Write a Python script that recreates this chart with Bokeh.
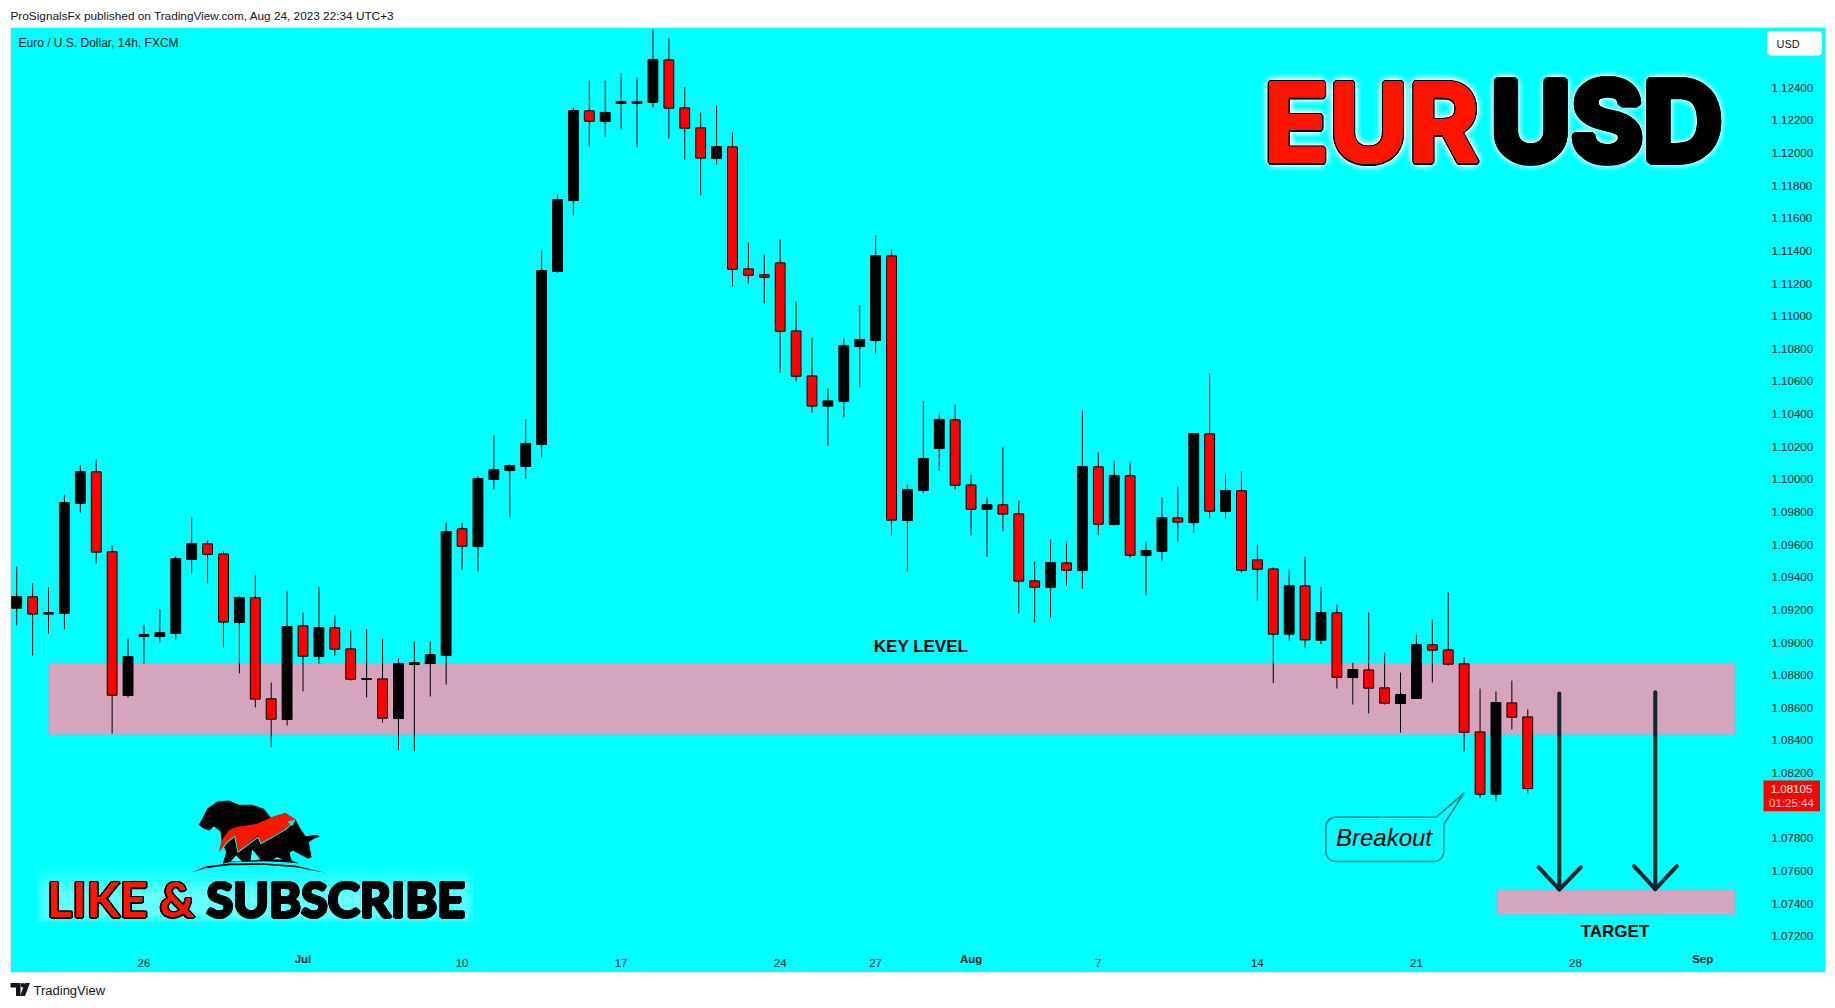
import numpy as np
from bokeh.plotting import figure
from bokeh.models import BoxAnnotation, Label, FixedTicker, NumeralTickFormatter, Range1d
from bokeh.core.properties import value
from bokeh.embed import file_html
from bokeh.resources import INLINE

# ---- data ----
opens = [1.09210,1.09280,1.09174,1.09178,1.09852,1.10046,1.09556,1.08675,1.09037,1.09037,
1.09055,1.09509,1.09605,1.09543,1.09123,1.09274,1.08655,1.08528,1.09102,1.08914,
1.09090,1.08961,1.08773,1.08777,1.08534,1.08865,1.08871,1.08920,1.09697,1.09588,
1.09999,1.10054,1.10079,1.10214,1.11274,1.11709,1.12259,1.12193,1.12304,1.12304,
1.12310,1.12571,1.12277,1.12155,1.11967,1.12038,1.11290,1.11254,1.11327,1.10910,
1.10634,1.10449,1.10477,1.10814,1.10851,1.11370,1.09748,1.09932,1.10189,1.10365,
1.09966,1.09815,1.09844,1.09789,1.09378,1.09337,1.09488,1.09441,1.10077,1.09723,
1.10022,1.09533,1.09558,1.09764,1.09735,1.10279,1.09803,1.09930,1.09507,1.09451,
1.09051,1.09347,1.09014,1.09182,1.08785,1.08832,1.08722,1.08626,1.08657,1.08986,
1.08955,1.08869,1.08452,1.08070,1.08630,1.08544]
closes = [1.09282,1.09174,1.09184,1.09858,1.10048,1.09554,1.08677,1.08914,1.09049,1.09061,
1.09515,1.09607,1.09541,1.09125,1.09276,1.08653,1.08530,1.09098,1.08916,1.09092,
1.08959,1.08775,1.08779,1.08536,1.08871,1.08877,1.08926,1.09680,1.09590,1.10005,
1.10060,1.10085,1.10220,1.11280,1.11715,1.12261,1.12195,1.12249,1.12316,1.12316,
1.12573,1.12275,1.12152,1.11969,1.12040,1.11288,1.11251,1.11239,1.10908,1.10632,
1.10449,1.10481,1.10820,1.10857,1.11372,1.09750,1.09938,1.10128,1.10367,1.09964,
1.09817,1.09846,1.09787,1.09376,1.09339,1.09490,1.09443,1.10079,1.09725,1.10024,
1.09535,1.09564,1.09766,1.09738,1.10281,1.09805,1.09932,1.09443,1.09449,1.09051,
1.09349,1.09016,1.09184,1.08787,1.08834,1.08720,1.08628,1.08681,1.08988,1.08953,
1.08867,1.08450,1.08070,1.08632,1.08542,1.08105]
highs = [1.09466,1.09362,1.09337,1.09907,1.10085,1.10122,1.09594,1.09024,1.09110,1.09202,
1.09527,1.09766,1.09625,1.09558,1.09282,1.09417,1.08755,1.09319,1.09184,1.09343,
1.09165,1.09074,1.09080,1.09024,1.08902,1.09006,1.09006,1.09735,1.09735,1.10017,
1.10269,1.10091,1.10367,1.11403,1.11746,1.12279,1.12445,1.12445,1.12488,1.12463,
1.12757,1.12702,1.12402,1.12249,1.12291,1.12126,1.11452,1.11378,1.11470,1.11090,
1.10869,1.10557,1.10863,1.11066,1.11495,1.11409,1.09968,1.10477,1.10404,1.10459,
1.10030,1.09889,1.10201,1.09870,1.09496,1.09631,1.09619,1.10422,1.10165,1.10115,
1.10109,1.09619,1.09889,1.09956,1.10281,1.10649,1.10030,1.10048,1.09601,1.09460,
1.09447,1.09527,1.09343,1.09233,1.08877,1.09184,1.08939,1.08816,1.09049,1.09141,
1.09306,1.08908,1.08718,1.08700,1.08767,1.08589]
lows = [1.09104,1.08920,1.09055,1.09080,1.09797,1.09484,1.08442,1.08663,1.08871,1.09000,
1.09018,1.09423,1.09362,1.08969,1.08810,1.08602,1.08358,1.08491,1.08700,1.08871,
1.08920,1.08767,1.08663,1.08510,1.08342,1.08334,1.08669,1.08743,1.09447,1.09435,
1.09938,1.09766,1.10005,1.10134,1.11268,1.11617,1.12040,1.12101,1.12144,1.12034,
1.12279,1.12089,1.11960,1.11740,1.11930,1.11182,1.11200,1.11078,1.10655,1.10600,
1.10410,1.10207,1.10379,1.10563,1.10771,1.09656,1.09435,1.09919,1.10054,1.09938,
1.09656,1.09527,1.09680,1.09178,1.09123,1.09153,1.09349,1.09331,1.09656,1.09717,
1.09521,1.09288,1.09496,1.09619,1.09674,1.09760,1.09760,1.09429,1.09257,1.08751,
1.09008,1.08965,1.08990,1.08718,1.08620,1.08565,1.08620,1.08448,1.08657,1.08755,
1.08859,1.08332,1.08050,1.08025,1.08467,1.08074]

price_ticks = [1.072,1.074,1.076,1.078,1.082,1.084,1.086,1.088,1.090,1.092,1.094,1.096,1.098,1.100,
               1.102,1.104,1.106,1.108,1.110,1.112,1.114,1.116,1.118,1.120,1.122,1.124]
day_ticks = {8:"26",18:"",28:"10",38:"17",48:"24",54:"27",60:"",68:"7",78:"14",88:"21",98:"28",106:""}
month_ticks = {18:"Jul",60:"Aug",106:"Sep"}
key_level = (1.08873, 1.08434)
target_level = (1.07484, 1.07333)
last_price = 1.08105
countdown = "01:25:44"

# ---- page pixel -> data mapping ----
def dx(px):
    return (np.asarray(px, dtype=float) - 16.2) / 15.906
def dy(py):
    return 1.124 - (np.asarray(py, dtype=float) - 87.3) / 16315.0
def bar_px(i):
    return 16.2 + 15.906 * i

CYAN = "#00ffff"
INK = "#131722"
ZONE = "#d4a5bd"
FONT = "Liberation Sans"

p = figure(width=1835, height=1008, output_backend="svg", toolbar_location=None,
           x_range=Range1d(float(dx(0)), float(dx(1835))), y_range=Range1d(float(dy(1008)), float(dy(0))),
           y_axis_location="right", min_border_left=0, min_border_right=0,
           min_border_top=0, min_border_bottom=0,
           background_fill_color="white", border_fill_color="white", outline_line_color=None)
p.grid.visible = False

def box(l, t, r, b, **kw):
    return BoxAnnotation(left=l, right=r, top=t, bottom=b, left_units="canvas", right_units="canvas",
                         top_units="canvas", bottom_units="canvas", **kw)

def rect(l, t, r, b, **kw):
    return p.quad(left=[float(dx(l))], right=[float(dx(r))], top=[float(dy(t))], bottom=[float(dy(b))], **kw)

# chart pane
rect(10, 27, 1825, 972, fill_color=CYAN, line_color="#dfe3ea", line_width=1)

# axes (labels pulled back into the pane)
ya = p.yaxis[0]
ya.ticker = FixedTicker(ticks=price_ticks)
ya.formatter = NumeralTickFormatter(format="0.00000")
ya.axis_line_color = None
ya.major_tick_line_color = None
ya.minor_tick_line_color = None
ya.major_label_standoff = -70
ya.major_label_text_font = FONT
ya.major_label_text_font_size = "11.5px"
ya.major_label_text_color = INK

xa = p.xaxis[0]
xa.ticker = FixedTicker(ticks=list(day_ticks.keys()))
xa.major_label_overrides = day_ticks
xa.axis_line_color = None
xa.major_tick_line_color = None
xa.minor_tick_line_color = None
xa.major_label_standoff = -56
xa.major_label_text_font = FONT
xa.major_label_text_font_size = "11.5px"
xa.major_label_text_color = INK

# zones
for lvl, l, r in ((key_level, 48.2, 1734.5), (target_level, 1496.5, 1734.5)):
    p.quad(left=[float(dx(l))], right=[float(dx(r))], top=[lvl[0]], bottom=[lvl[1]],
           fill_color=ZONE, line_color="#6fc4e8", line_width=1)

# candles
idx = np.arange(len(opens))
cols = ["black" if c >= o else "#ff0000" for o, c in zip(opens, closes)]
p.segment(idx, highs, idx, lows, line_color="black", line_width=1)
p.vbar(x=idx, width=0.62, top=np.maximum(opens, closes), bottom=np.minimum(opens, closes),
       fill_color=cols, line_color="black", line_width=1)

# arrows
ARROW = "#10262c"
for x, y0, y1, a0, a1, ya0 in ((1558.8, 693, 889, 1538, 1580.4, 866.7), (1654.8, 691.7, 888.7, 1633.5, 1676.4, 865.7)):
    p.line(dx([x, x]), dy([y0, y1]), line_color=ARROW, line_width=4, line_cap="round")
    p.line(dx([a0, x, a1]), dy([ya0, y1, ya0]), line_color=ARROW, line_width=4, line_cap="round", line_join="round")

# breakout callout
def rounded(l, t, r, b, rad):
    a = np.linspace(0, np.pi / 2, 8)
    xs, ys = [], []
    xs += list(l + rad - rad * np.cos(a)); ys += list(t + rad - rad * np.sin(a))
    xs += [1435.7, 1463.7, 1443.3]; ys += [t, 792.3, 824]
    xs += list(r - rad + rad * np.cos(a)); ys += list(b - rad + rad * np.sin(a))
    xs += list(l + rad - rad * np.sin(a)); ys += list(b - rad + rad * np.cos(a))
    return xs, ys
bx, by = rounded(1325.3, 816.7, 1443.3, 861, 10)
p.patch(dx(bx), dy(by), fill_color=CYAN, line_color="#008080", line_width=1.6)

# outlined / glowing text
def fancy(px, baseline, text, size, fill, outline, stroke_r, inner_r, glow, font, align="left"):
    ang = np.linspace(0, 2 * np.pi, 16, endpoint=False)
    tf = value(font)
    sz = f"{size}px"
    y = baseline - 0.39 * size          # the browser's baseline handling sits this far lower
    X, Y = [float(dx(px))] * 16, [float(dy(y))] * 16
    layers = [(r, "white", a) for r, a in glow]
    if stroke_r:
        layers.append((stroke_r, outline, 1))
    if inner_r:
        layers.append((inner_r, fill, 1))
    for r, c, a in layers:
        p.text(X, Y, text=[text] * 16, x_offset=list(r * np.cos(ang)), y_offset=list(r * np.sin(ang)),
               text_font=tf, text_font_size=value(sz), text_font_style="bold",
               text_color=c, text_alpha=a, text_align=align, text_baseline="alphabetic")
    p.text(X[:1], Y[:1], text=[text], text_font=tf, text_font_size=value(sz),
           text_font_style="bold", text_color=fill, text_align=align, text_baseline="alphabetic")

GLOW = [(10, 0.04), (8, 0.06), (6, 0.10), (4.5, 0.18)]
fancy(1263, 164, "EUR", 108, "#ff1400", "black", 3, 1.6, GLOW, "Inter")
fancy(1490, 163, "USD", 110, "black", "black", 4, 0, GLOW, "Inter")

# logo: light panel, wording, bull and bear
for l, t, r, b, a in ((36.4, 866, 473.7, 921, 0.04), (37, 871, 473, 921, 0.05), (38, 876, 472, 921, 0.07),
                      (40, 881, 470, 920, 0.09), (44, 886, 466, 918, 0.11), (60, 891, 450, 915, 0.12)):
    rect(l, t, r, b, fill_color="white", fill_alpha=a, line_color=None)
fancy(46.5, 916.5, "LIKE &", 48.5, "#ff1400", "black", 1.5, 0, [], "Lato")
fancy(206, 916.5, "SUBSCRIBE", 48.5, "black", "black", 1.5, 0, [], "Lato")

def logo_xy(pts):
    a = np.array(pts, dtype=float)
    return dx(185 + a[:, 0] / 3), dy(795 + a[:, 1] / 3)

body = [(40,88),(50,70),(65,40),(95,18),(130,15),(160,28),(200,28),(235,40),(258,68),(300,55),(330,72),(345,100),
        (360,122),(395,118),(402,124),(385,130),(370,140),(378,185),(368,190),(345,178),(322,165),(312,172),(318,195),
        (340,203),(300,200),(240,197),(130,200),(112,205),(122,170),(108,135),(105,108),(85,92),(72,105),(55,100)]
bxs, bys = logo_xy(body)
p.patch(bxs, bys, fill_color="black", line_color=None)
for hole in ([(135,198),(152,180),(170,198)], [(195,195),(200,162),(225,192)], [(262,192),(275,185),(292,192)]):
    hx, hy = logo_xy(hole)
    p.patch(hx, hy, fill_color="#40ffff", line_color=None)
swoosh = [(100,170),(108,135),(130,105),(150,95),(215,85),(265,62),(300,52),(325,68),(330,75),(300,100),(225,145),
          (218,120),(160,168),(148,120),(125,140),(105,165)]
sxs, sys = logo_xy(swoosh)
p.patch(sxs, sys, fill_color="#ff1400", line_color=None)
edge = [(100,175),(125,140),(148,122),(157,170),(218,125),(226,145),(300,102),(318,85)]
exs, eys = logo_xy(edge)
p.line(exs, eys, line_color="#22dddd", line_width=1.2)
tip = [(305,78),(330,73),(320,92)]
tpx, tpy = logo_xy(tip)
p.patch(tpx, tpy, fill_color="#22dddd", line_color=None)
arc = [(20,230),(60,213),(130,204),(230,203),(330,210),(420,232),(330,215),(230,208),(130,209),(60,218)]
axs, ays = logo_xy(arc)
p.patch(axs, ays, fill_color="black", line_color=None)

# TradingView mark
tv1 = [(10,982.5),(20,982.5),(20,995.5),(15.5,995.5),(15.5,987),(10,987)]
p.patch(dx([q[0] for q in tv1]), dy([q[1] for q in tv1]), fill_color=INK, line_color=None)
tv2 = [(24.5,982.5),(29.5,982.5),(24.5,995.5),(19.5,995.5)]
p.patch(dx([q[0] for q in tv2]), dy([q[1] for q in tv2]), fill_color=INK, line_color=None)
p.scatter(dx([22.3]), dy([984.7]), size=4.4, marker="circle", fill_color=INK, line_color=None)

# tags
p.add_layout(box(1766.8, 30.7, 1821.4, 55, fill_color="white", fill_alpha=1, line_color="#e0e3eb", border_radius=4))
p.add_layout(box(1763, 780, 1819.5, 810.7, fill_color="#ff0000", fill_alpha=1, line_color=None))

# texts
def note(px, py, text, size, style="normal", color="black", align="center", font=FONT):
    p.add_layout(Label(x=float(px), y=float(py), x_units="canvas", y_units="canvas", text=text, text_font=font,
                       text_font_size=size, text_font_style=style, text_color=color,
                       text_align=align, text_baseline="middle"))

for k, t in month_ticks.items():
    note(bar_px(k), 958, t, "11.5px", "bold", INK)
note(920.5, 646, "KEY LEVEL", "17px", "bold")
note(1614.5, 931, "TARGET", "17px", "bold")
note(1383.5, 837, "Breakout", "24px", "italic")
note(18, 42, "Euro / U.S. Dollar, 14h, FXCM", "12px", align="left", color=INK)
note(10, 15, "ProSignalsFx published on TradingView.com, Aug 24, 2023 22:34 UTC+3", "11.8px", align="left", color=INK)
note(33, 990, "TradingView", "13px", align="left", color=INK)
note(1776, 43, "USD", "11px", align="left", color=INK)
note(1791, 788, f"{last_price:.5f}", "11.5px", color="white")
note(1791, 802.5, countdown, "11.5px", color="#ffd0d0")

open("out.html", "w").write(file_html(p, INLINE))
